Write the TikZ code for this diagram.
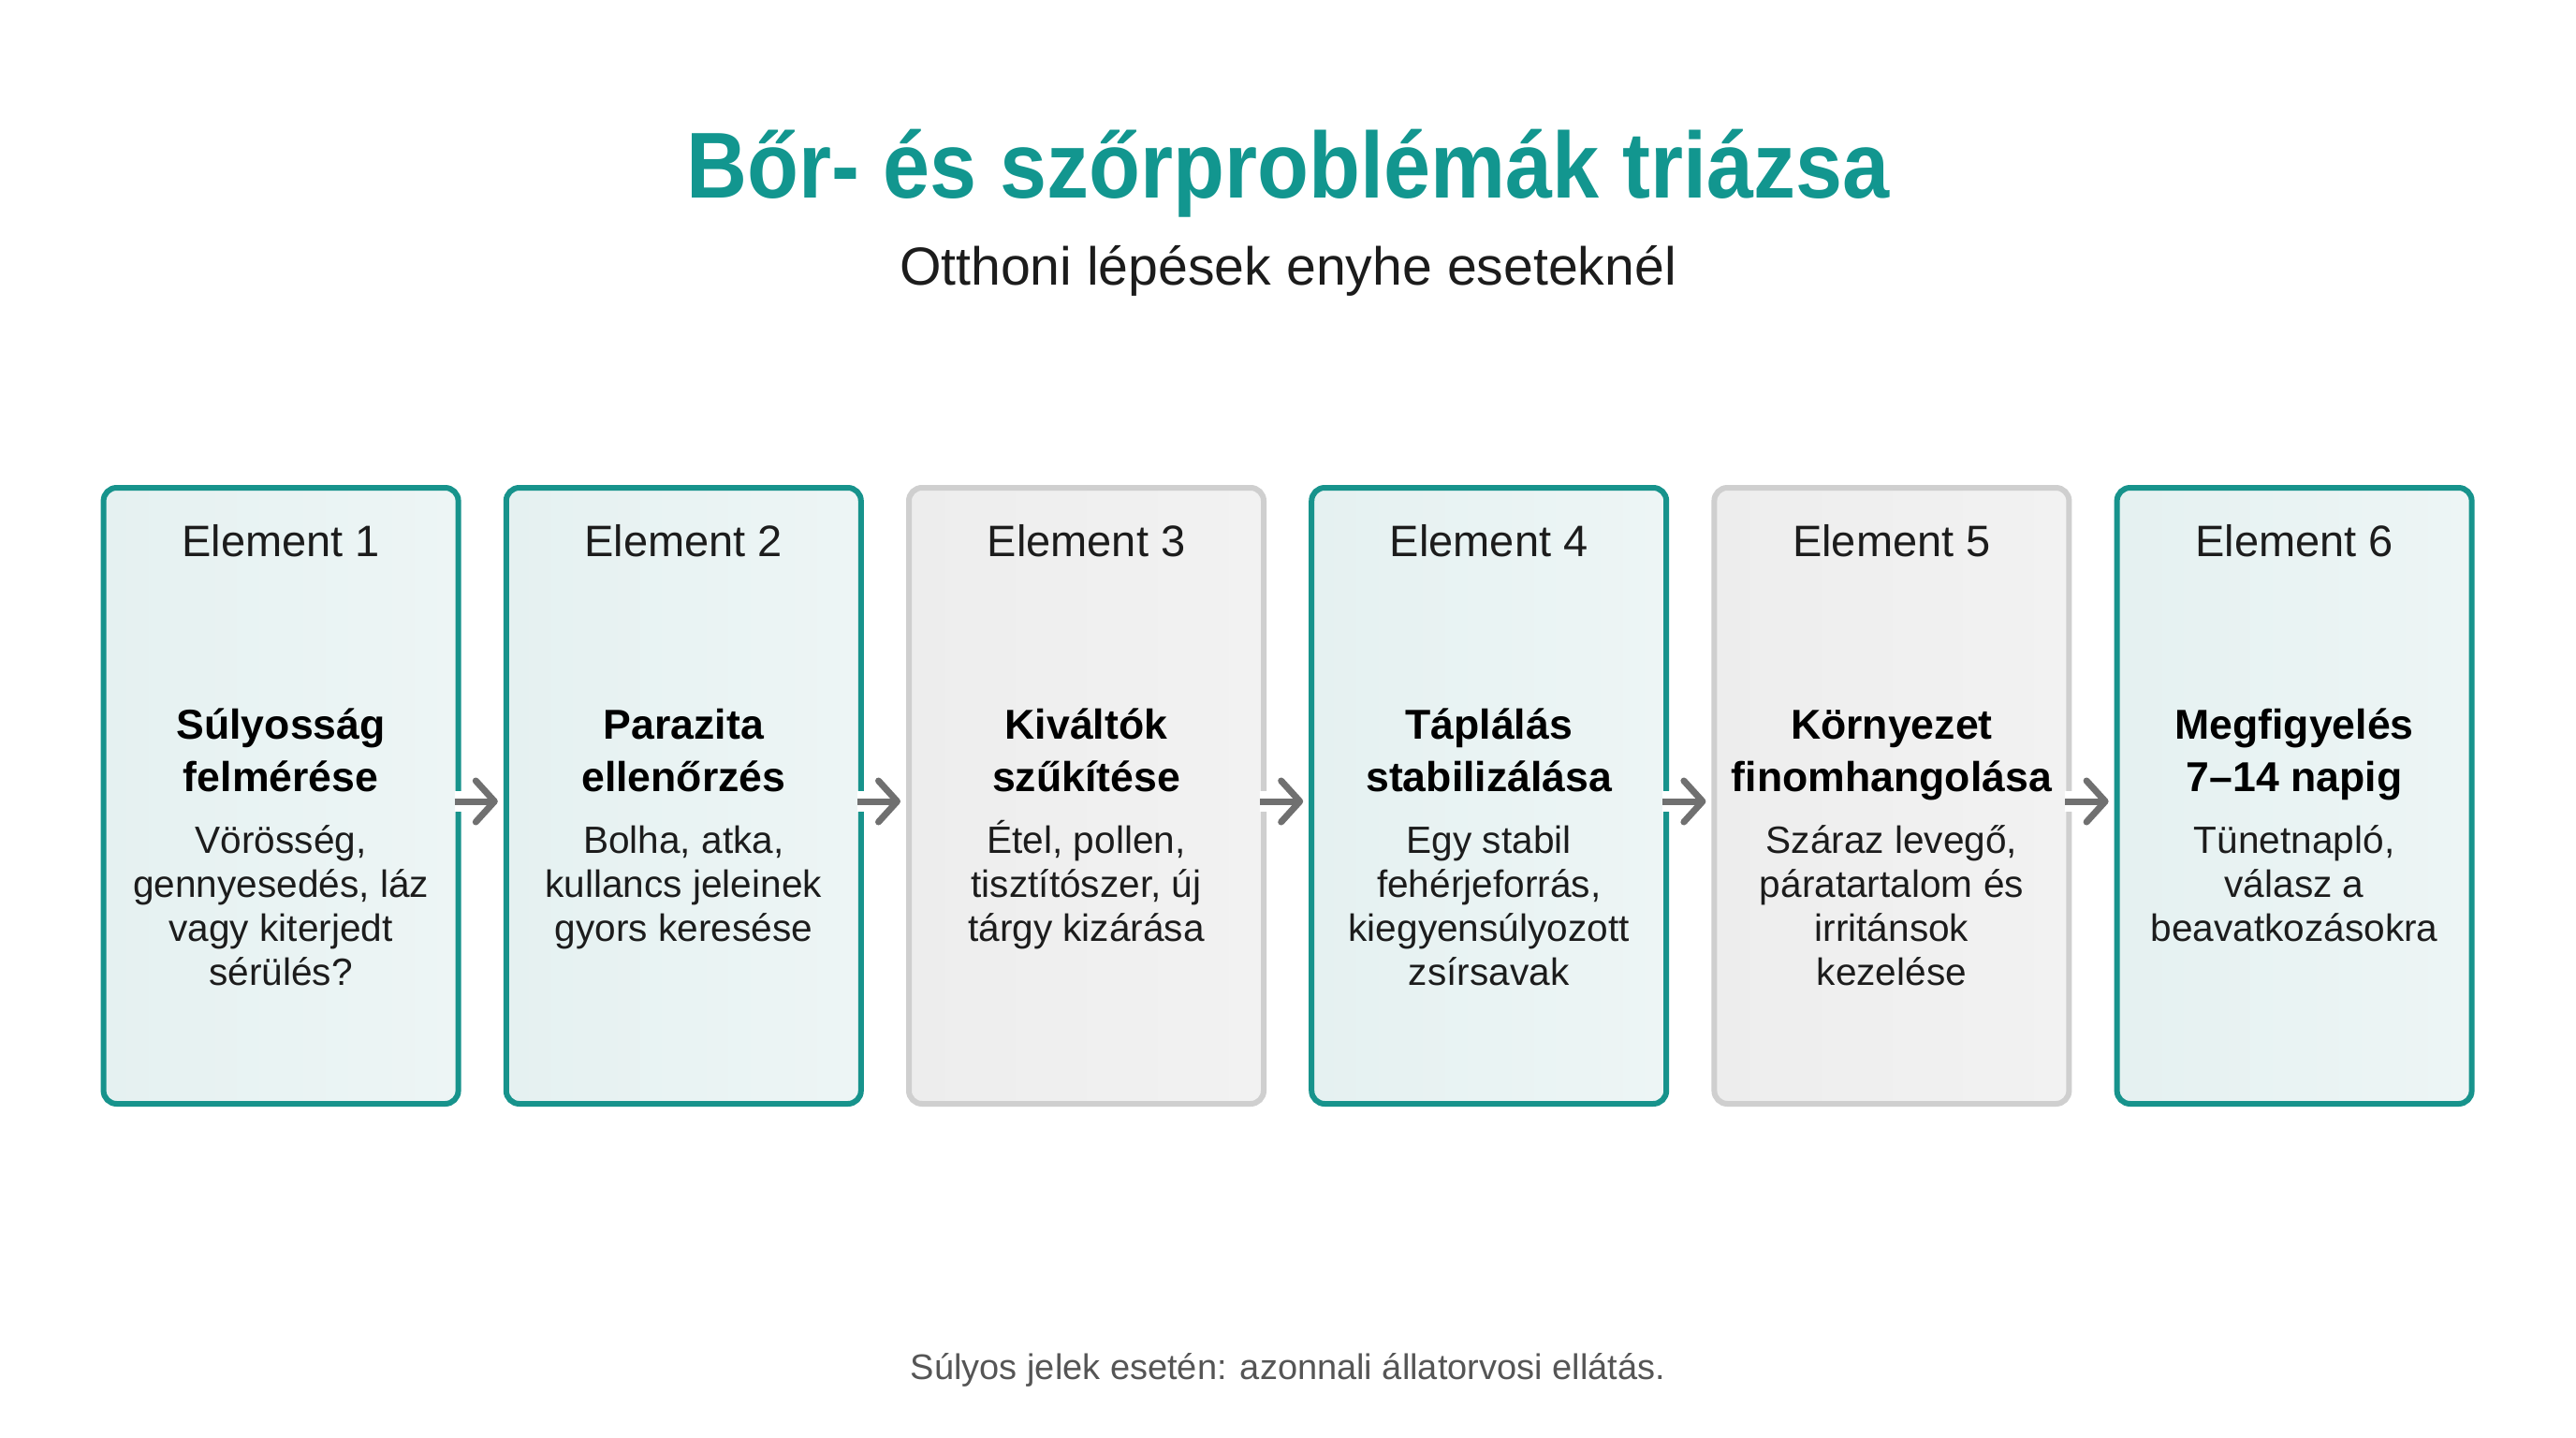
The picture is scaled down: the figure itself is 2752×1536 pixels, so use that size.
\documentclass[tikz,border=0pt]{standalone}
\usepackage{fontspec}
\setmainfont{Liberation Sans}
\newfontfamily\titlefont[FakeStretch=0.9]{Liberation Sans}
\usetikzlibrary{arrows.meta}
\definecolor{titleteal}{HTML}{12968F}
\definecolor{borderteal}{HTML}{17938C}
\definecolor{tealA}{HTML}{E5F1F1}
\definecolor{tealB}{HTML}{EDF5F5}
\definecolor{grayborder}{HTML}{CFCFCF}
\definecolor{grayA}{HTML}{EDEDED}
\definecolor{grayB}{HTML}{F2F2F2}
\definecolor{arrowgray}{HTML}{707070}
\definecolor{inktext}{HTML}{1C1C1C}
\definecolor{footgray}{HTML}{555555}
\newcommand\mkcard[5]{%
  \node[card,#3] (b#1) at (#2,850) {};
  \node[lab] (e#1) at (#2,594) {Element #1};
  \node[head] (h#1) at (#2,741) {\rule{0pt}{24pt}#4};
  \node[desc] (d#1) at (#2,867) {\rule{0pt}{22pt}#5};
}
\begin{document}
\begin{tikzpicture}[x=0.5pt,y=-0.5pt,
  card/.style={rounded corners=7pt, line width=3pt, minimum width=189.5pt, minimum height=329pt, inner sep=0pt},
  tealcard/.style={draw=borderteal, left color=tealA, right color=tealB},
  graycard/.style={draw=grayborder, left color=grayA, right color=grayB},
  lab/.style={anchor=base, inner sep=0pt, text=inktext, font=\fontsize{23.5}{28}\selectfont},
  head/.style={anchor=north, inner sep=0pt, align=center, text=black, font=\bfseries\fontsize{22.3}{28}\selectfont},
  desc/.style={anchor=north, inner sep=0pt, align=center, text=inktext, font=\fontsize{20.3}{23.5}\selectfont},
  arr/.style={draw=arrowgray, line width=3.5pt, -{Straight Barb[length=10pt,width=22pt,round]},
    preaction={draw=white, line width=11pt, -}},
  ]
\useasboundingbox (0,0) rectangle (2752,1536);
\fill[white] (0,0) rectangle (2752,1536);

\node[anchor=base, inner sep=0pt, text=titleteal, font=\titlefont\bfseries\fontsize{50}{60}\selectfont] (title) at (1376,212) {Bőr- és szőrproblémák triázsa};
\node[anchor=base, inner sep=0pt, text=inktext, font=\fontsize{28.6}{34}\selectfont] (subtitle) at (1376,304) {Otthoni lépések enyhe eseteknél};

\mkcard{1}{300.1}{tealcard}{Súlyosság\\felmérése}{Vörösség,\\gennyesedés, láz\\vagy kiterjedt\\sérülés?}
\mkcard{2}{730.3}{tealcard}{Parazita\\ellenőrzés}{Bolha, atka,\\kullancs jeleinek\\gyors keresése}
\mkcard{3}{1160.5}{graycard}{Kiváltók\\szűkítése}{Étel, pollen,\\tisztítószer, új\\tárgy kizárása}
\mkcard{4}{1590.7}{tealcard}{Táplálás\\stabilizálása}{Egy stabil\\fehérjeforrás,\\kiegyensúlyozott\\zsírsavak}
\mkcard{5}{2020.9}{graycard}{Környezet\\finomhangolása}{Száraz levegő,\\páratartalom és\\irritánsok\\kezelése}
\mkcard{6}{2451.1}{tealcard}{Megfigyelés\\7–14 napig}{Tünetnapló,\\válasz a\\beavatkozásokra}

\draw[arr] ([shift={(-7,6)}]b1.east) -- ([shift={(-6,6)}]b2.west);
\draw[arr] ([shift={(-7,6)}]b2.east) -- ([shift={(-6,6)}]b3.west);
\draw[arr] ([shift={(-7,6)}]b3.east) -- ([shift={(-6,6)}]b4.west);
\draw[arr] ([shift={(-7,6)}]b4.east) -- ([shift={(-6,6)}]b5.west);
\draw[arr] ([shift={(-7,6)}]b5.east) -- ([shift={(-6,6)}]b6.west);

\node[anchor=base, inner sep=0pt, text=footgray, font=\fontsize{19}{23}\selectfont] (footer) at (1376,1473) {Súlyos jelek esetén: azonnali állatorvosi ellátás.};
\end{tikzpicture}
\end{document}
